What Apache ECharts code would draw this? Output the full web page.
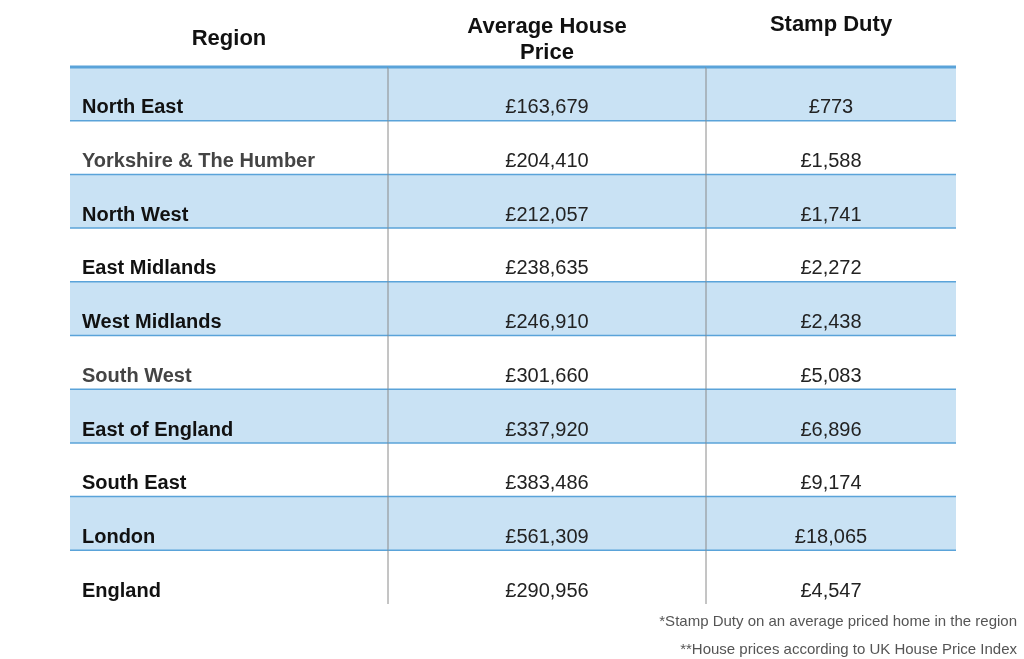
<!DOCTYPE html>
<html><head><meta charset="utf-8">
<script src="https://cdn.jsdelivr.net/npm/echarts@6/dist/echarts.min.js"></script>
<style>html,body{margin:0;background:#fff}#c{width:1024px;height:659px}</style>
</head><body><div id="c"></div>
<script>
// data
const regions = ["North East", "Yorkshire & The Humber", "North West", "East Midlands", "West Midlands",
  "South West", "East of England", "South East", "London", "England"];
const avgPrice = ["£163,679", "£204,410", "£212,057", "£238,635", "£246,910", "£301,660", "£337,920", "£383,486", "£561,309", "£290,956"];
const stampDuty = ["£773", "£1,588", "£1,741", "£2,272", "£2,438", "£5,083", "£6,896", "£9,174", "£18,065", "£4,547"];
const headers = ["Region", "Average House\nPrice", "Stamp Duty"];
const notes = ["*Stamp Duty on an average priced home in the region", "**House prices according to UK House Price Index"];
const greyRows = ["Yorkshire & The Humber", "South West"];

// layout
const COL_EDGES = [0, 318, 636, 886];
const FONT = "Liberation Sans, Arial, sans-serif";
const SHADE = "#c9e2f4", LINE = "#5aa3d9", VLINE = "#8a8a8a";

const cells = [];
regions.forEach((r, i) => {
  cells.push([0, i, r]);
  cells.push([1, i, avgPrice[i]]);
  cells.push([2, i, stampDuty[i]]);
});

const chart = echarts.init(document.getElementById("c"));
chart.setOption({
  animation: false,
  grid: { left: 70, right: 68, top: 67, bottom: 55 },
  xAxis: { type: "value", min: 0, max: 886, show: false },
  yAxis: { type: "category", data: regions, inverse: true, show: false },
  series: [{
    type: "custom",
    data: cells,
    renderItem(params, api) {
      const col = api.value(0), row = api.value(1);
      const text = cells[params.dataIndex][2];
      const c = api.coord([COL_EDGES[col], row]);
      const c2 = api.coord([COL_EDGES[col + 1], row]);
      const h = api.size([0, 1])[1];
      const x0 = c[0], x1 = c2[0], y0 = c[1] - h / 2, y1 = c[1] + h / 2;
      const children = [];
      if (row % 2 === 0) children.push({ type: "rect", z2: 0, shape: { x: x0, y: y0, width: x1 - x0, height: h }, style: { fill: SHADE } });
      if (row < regions.length - 1) children.push({ type: "line", z2: 10, shape: { x1: x0, y1: y1, x2: x1, y2: y1 }, style: { stroke: LINE, lineWidth: 1.5 } });
      if (row === 0) children.push({ type: "line", z2: 10, shape: { x1: x0, y1: y0, x2: x1, y2: y0 }, style: { stroke: LINE, lineWidth: 3 } });
      if (col < 2) children.push({ type: "line", z2: 10, shape: { x1: x1, y1: y0, x2: x1, y2: y1 }, style: { stroke: VLINE, lineWidth: 1 } });
      const isLabel = col === 0;
      children.push({
        type: "text", z2: 20,
        style: {
          x: isLabel ? x0 + 12 : (x0 + x1) / 2, y: c[1] + 14,
          text: text, align: isLabel ? "left" : "center", verticalAlign: "middle",
          font: (isLabel ? "bold " : "") + "20px " + FONT,
          fill: isLabel ? (greyRows.includes(text) ? "#444" : "#111") : "#222"
        }
      });
      return { type: "group", children };
    }
  }],
  graphic: [
    { type: "text", x: 229, y: 28, style: { text: headers[0], align: "center", font: "bold 22px " + FONT, fill: "#111" } },
    { type: "text", x: 547, y: 14, style: { text: headers[1], align: "center", font: "bold 22px " + FONT, fill: "#111", lineHeight: 26 } },
    { type: "text", x: 831, y: 14, style: { text: headers[2], align: "center", font: "bold 22px " + FONT, fill: "#111" } },
    { type: "text", x: 1017, y: 614, style: { text: notes[0], align: "right", font: "15px " + FONT, fill: "#555" } },
    { type: "text", x: 1017, y: 642, style: { text: notes[1], align: "right", font: "15px " + FONT, fill: "#555" } }
  ]
});
</script></body></html>
